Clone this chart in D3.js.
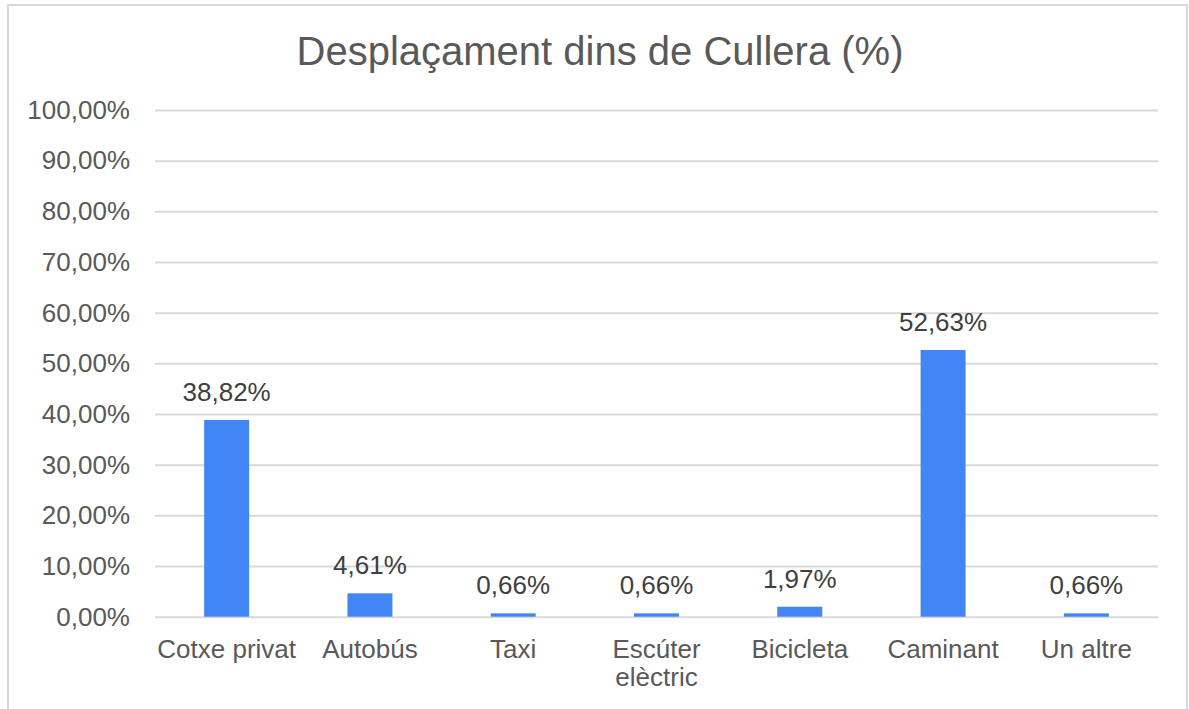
<!DOCTYPE html>
<html>
<head>
<meta charset="utf-8">
<script src="https://cdn.jsdelivr.net/npm/d3@7"></script>
<style>
  html, body { margin: 0; padding: 0; background: #fff; }
  svg { display: block; }
  text { font-family: "Liberation Sans", Arial, Helvetica, sans-serif; }
</style>
</head>
<body>
<svg id="chart" width="1189" height="709"></svg>
<script>
const title = "Desplaçament dins de Cullera (%)";
const categories = ["Cotxe privat", "Autobús", "Taxi", "Escúter elèctric", "Bicicleta", "Caminant", "Un altre"];
const categoryLines = [["Cotxe privat"], ["Autobús"], ["Taxi"], ["Escúter", "elèctric"], ["Bicicleta"], ["Caminant"], ["Un altre"]];
const values = [38.82, 4.61, 0.66, 0.66, 1.97, 52.63, 0.66];
const valueLabels = ["38,82%", "4,61%", "0,66%", "0,66%", "1,97%", "52,63%", "0,66%"];
const yTicks = [0, 10, 20, 30, 40, 50, 60, 70, 80, 90, 100];
const yTickLabels = ["0,00%", "10,00%", "20,00%", "30,00%", "40,00%", "50,00%", "60,00%", "70,00%", "80,00%", "90,00%", "100,00%"];

const W = 1189, H = 709;
const plot = { left: 155, right: 1158, top: 110, bottom: 616.7 };
const svg = d3.select("#chart");

// chart border
svg.append("rect")
  .attr("x", 8).attr("y", 5)
  .attr("width", 1179).attr("height", 740)
  .attr("fill", "none")
  .attr("stroke", "#d9d9d9")
  .attr("stroke-width", 2);

const x = d3.scaleBand()
  .domain(categories)
  .range([plot.left, plot.right])
  .paddingInner(0.686)
  .paddingOuter(0.343);

const y = d3.scaleLinear()
  .domain([0, 100])
  .range([plot.bottom, plot.top]);

// title
svg.append("text")
  .attr("x", 600).attr("y", 65)
  .attr("text-anchor", "middle")
  .attr("font-size", 40)
  .attr("fill", "#595959")
  .text(title);

// gridlines + y labels via axis
const yAxis = d3.axisLeft(y)
  .tickValues(yTicks)
  .tickSize(-(plot.right - plot.left))
  .tickPadding(25)
  .tickFormat((d, i) => yTickLabels[i]);

const gy = svg.append("g")
  .attr("transform", `translate(${plot.left},0)`)
  .call(yAxis);
gy.select(".domain").remove();
gy.selectAll(".tick line").attr("stroke", "#d9d9d9").attr("stroke-width", 2);
gy.selectAll(".tick text")
  .attr("font-size", 26)
  .attr("fill", "#595959")
  .attr("font-family", "Liberation Sans, Arial, sans-serif");

// bars
svg.append("g").selectAll("rect")
  .data(values)
  .join("rect")
  .attr("x", (d, i) => x(categories[i]))
  .attr("width", x.bandwidth())
  .attr("y", d => y(d))
  .attr("height", d => y(0) - y(d))
  .attr("fill", "#4285f4");

// value labels
svg.append("g").selectAll("text")
  .data(values)
  .join("text")
  .attr("x", (d, i) => x(categories[i]) + x.bandwidth() / 2)
  .attr("y", d => y(d) - 19)
  .attr("text-anchor", "middle")
  .attr("font-size", 26)
  .attr("fill", "#404040")
  .text((d, i) => valueLabels[i]);

// x axis labels
const xAxis = d3.axisBottom(x).tickSize(0).tickFormat(() => "");
const gx = svg.append("g")
  .attr("transform", `translate(0,${plot.bottom})`)
  .call(xAxis);
gx.select(".domain").remove();
gx.selectAll(".tick").each(function(d, i) {
  const t = d3.select(this).append("text")
    .attr("text-anchor", "middle")
    .attr("font-size", 26)
    .attr("fill", "#595959")
    .attr("font-family", "Liberation Sans, Arial, sans-serif");
  categoryLines[i].forEach((line, j) => {
    t.append("tspan").attr("x", 0).attr("y", 41 + j * 28).text(line);
  });
});
</script>
</body>
</html>
